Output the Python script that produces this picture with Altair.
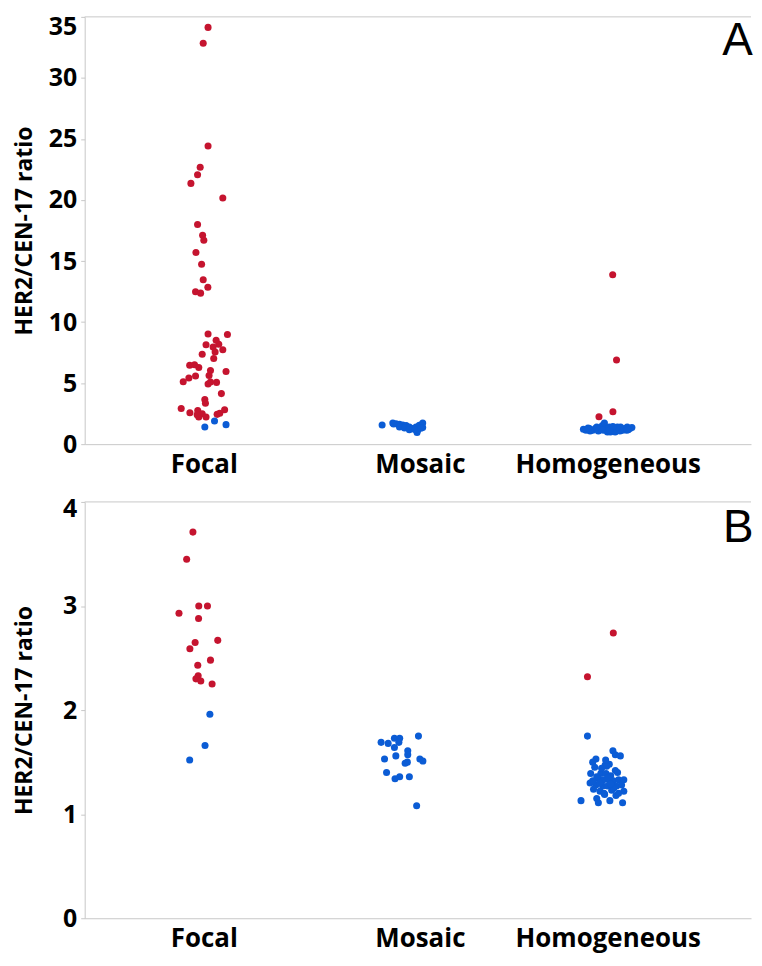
import altair as alt
import pandas as pd

CATS = ["Focal", "Mosaic", "Homogeneous"]
RED = "#C5142F"
BLUE = "#0B5CD5"
GRAY = "#c8c8c8"
YTITLE = "HER2/CEN-17 ratio"

# ---------------- Panel A ----------------
A_focal_amp = [34.14, 32.84, 24.43, 22.69, 22.07, 21.36, 20.17, 17.99, 17.12, 16.71,
               15.70, 14.73, 13.46, 12.86, 12.49, 12.37, 9.02, 8.99, 8.51, 8.15,
               8.18, 7.96, 7.74, 7.55, 7.37, 7.01, 6.47, 6.50, 6.28, 6.04,
               5.95, 5.58, 5.42, 5.12, 5.63, 5.09, 4.93, 5.06, 4.14, 3.66,
               3.35, 2.92, 2.58, 2.76, 2.49, 2.22, 2.22, 2.44, 2.54, 2.82, 2.41]
A_focal_amp_j = [0.021, -0.003, 0.021, -0.018, -0.031, -0.064, 0.094, -0.031, -0.006, 0.0,
                 -0.039, -0.011, -0.003, 0.020, -0.041, -0.016, 0.021, 0.117, 0.061, 0.011,
                 0.074, 0.046, 0.094, 0.056, -0.008, 0.049, -0.070, -0.046, -0.025, 0.033,
                 0.110, -0.041, -0.074, -0.102, 0.026, 0.033, 0.021, 0.063, 0.087, 0.005,
                 0.008, -0.112, -0.069, -0.030, -0.008, -0.025, 0.011, 0.066, 0.079, 0.103, -0.033]
A_focal_non = [1.41, 1.89, 1.60]
A_focal_non_j = [0.005, 0.053, 0.110]

A_mosaic_non = [1.57, 1.73, 1.68, 1.62, 1.57, 1.52, 1.41, 1.32, 1.41, 1.28,
                1.41, 1.54, 1.73, 1.36, 0.95, 1.14, 1.19, 1.20, 1.65, 1.30]
A_mosaic_non_j = [-0.117, -0.064, -0.048, -0.031, -0.015, 0.002, -0.031, -0.006, 0.018, 0.034,
                  0.051, 0.067, 0.084, 0.084, 0.056, 0.059, 0.018, 0.045, -0.060, 0.075]

A_homo_amp = [13.87, 6.90, 2.66, 2.25]
A_homo_amp_j = [0.025, 0.044, 0.026, -0.043]
A_homo_non = [1.22, 1.14, 1.28, 1.14, 1.28, 1.08, 1.33, 1.52, 1.73, 1.28,
              1.00, 1.41, 1.14, 1.33, 1.08, 1.28, 1.41, 1.14, 1.28, 1.41,
              1.28, 1.36, 1.14, 1.19, 1.28, 1.00, 1.00, 1.08, 1.08, 1.41,
              1.14, 1.14, 1.41, 1.45, 1.33, 1.19]
A_homo_non_j = [-0.120, -0.107, -0.090, -0.074, -0.061, -0.046, -0.038, -0.026, -0.016, -0.011,
                -0.001, 0.008, 0.020, 0.031, 0.041, 0.053, 0.064, 0.074, 0.085, 0.097,
                0.110, 0.120, -0.020, -0.031, 0.005, 0.014, 0.037, 0.061, -0.087, -0.054,
                0.094, 0.010, 0.048, 0.026, -0.097, 0.102]

# ---------------- Panel B ----------------
B_focal_amp = [3.71, 3.45, 3.00, 3.00, 2.93, 2.88, 2.67, 2.65, 2.59, 2.48,
               2.43, 2.33, 2.30, 2.28, 2.25]
B_focal_amp_j = [-0.054, -0.085, -0.025, 0.018, -0.123, -0.026, 0.069, -0.043, -0.069, 0.033,
                 -0.030, -0.028, -0.039, -0.015, 0.041]
B_focal_non = [1.96, 1.66, 1.52]
B_focal_non_j = [0.030, 0.006, -0.070]

B_mosaic_non = [1.69, 1.68, 1.73, 1.73, 1.69, 1.64, 1.75, 1.61, 1.57, 1.56,
                1.53, 1.53, 1.51, 1.50, 1.49, 1.40, 1.36, 1.34, 1.36, 1.08]
B_mosaic_non_j = [-0.122, -0.087, -0.056, -0.030, -0.034, -0.056, 0.063, 0.010, 0.010, -0.049,
                  -0.105, 0.070, 0.085, 0.008, -0.003, -0.095, -0.030, -0.053, 0.018, 0.054]

B_homo_amp = [2.74, 2.32]
B_homo_amp_j = [0.028, -0.100]
B_homo_non = [1.75, 1.61, 1.57, 1.56, 1.53, 1.50, 1.47, 1.48, 1.45, 1.42,
              1.39, 1.39, 1.39, 1.37, 1.34, 1.33, 1.33, 1.32, 1.33, 1.33,
              1.30, 1.28, 1.27, 1.27, 1.27, 1.28, 1.24, 1.22, 1.23, 1.22,
              1.20, 1.18, 1.15, 1.13, 1.13, 1.11, 1.11, 1.19, 1.44, 1.46,
              1.36, 1.40, 1.30, 1.35, 1.25, 1.32, 1.20, 1.52, 1.29]
B_homo_non_j = [-0.100, 0.026, 0.038, 0.063, -0.058, -0.074, -0.013, 0.008, -0.064, 0.038,
                -0.084, -0.034, -0.008, 0.015, -0.046, -0.021, 0.005, 0.028, 0.054, 0.080,
                -0.087, -0.058, -0.025, -0.001, 0.044, 0.069, -0.070, -0.038, 0.020, 0.080,
                -0.018, 0.041, -0.054, -0.132, 0.011, 0.074, -0.046, -0.015, -0.030, -0.005,
                -0.054, 0.049, -0.039, 0.000, 0.030, -0.074, 0.054, -0.010, 0.015]


def build(groups):
    rows = []
    for cat, status, vals, jit in groups:
        idx = CATS.index(cat) + 1
        for v, j in zip(vals, jit):
            rows.append({"category": cat, "status": status, "ratio": v, "xpos": idx + j})
    return pd.DataFrame(rows)


dfA = build([
    ("Focal", "amplified", A_focal_amp, A_focal_amp_j),
    ("Focal", "not amplified", A_focal_non, A_focal_non_j),
    ("Mosaic", "not amplified", A_mosaic_non, A_mosaic_non_j),
    ("Homogeneous", "amplified", A_homo_amp, A_homo_amp_j),
    ("Homogeneous", "not amplified", A_homo_non, A_homo_non_j),
])
dfB = build([
    ("Focal", "amplified", B_focal_amp, B_focal_amp_j),
    ("Focal", "not amplified", B_focal_non, B_focal_non_j),
    ("Mosaic", "not amplified", B_mosaic_non, B_mosaic_non_j),
    ("Homogeneous", "amplified", B_homo_amp, B_homo_amp_j),
    ("Homogeneous", "not amplified", B_homo_non, B_homo_non_j),
])

W = 669
LABEL_EXPR = "datum.value < 1.5 ? 'Focal' : (datum.value < 2.5 ? 'Mosaic' : 'Homogeneous')"


def panel(df, ymax, yticks, letter, h, title_pad, top_off, letter_x, letter_y):
    xenc = alt.X(
        "xpos:Q",
        scale=alt.Scale(domain=[0.41, 3.71], nice=False, zero=False),
        axis=alt.Axis(values=[1, 2.07, 3], labelExpr=LABEL_EXPR, title=None,
                      ticks=False, labelPadding=7, labelFontSize=26, labelLimit=400),
    )
    yenc = alt.Y(
        "ratio:Q",
        scale=alt.Scale(domain=[0, ymax], nice=False),
        axis=alt.Axis(values=yticks, format="d", title=YTITLE, titlePadding=title_pad,
                      labelOffset={"condition": {"test": f"datum.value == {ymax}", "value": top_off},
                                   "value": 0}),
    )
    pts = alt.Chart(df).mark_circle(size=50, opacity=1).encode(
        x=xenc,
        y=yenc,
        color=alt.Color("status:N",
                        scale=alt.Scale(domain=["amplified", "not amplified"], range=[RED, BLUE]),
                        legend=None),
    )
    top = alt.Chart(pd.DataFrame({"top": [ymax]})).mark_rule(color=GRAY, strokeWidth=1).encode(
        y="top:Q"
    )
    lab = alt.Chart(pd.DataFrame({"t": [letter]})).mark_text(
        font="Liberation Sans", fontSize=46, align="left", baseline="top",
        color="black",
    ).encode(text="t:N", x=alt.value(letter_x), y=alt.value(letter_y))
    return alt.layer(top, pts, lab).properties(width=W, height=h)


chartA = panel(dfA, 35, [0, 5, 10, 15, 20, 25, 30, 35], "A", 429, 12, 10, 640, 2)
chartB = panel(dfB, 4, [0, 1, 2, 3, 4], "B", 418, 26, 7, 641, 4)

chart = alt.vconcat(chartA, chartB, spacing=20).configure(
    padding={"left": 5, "top": 5, "right": 0, "bottom": 6}
).configure_view(stroke=None).configure_axis(
    grid=False,
    domainColor=GRAY,
    tickColor=GRAY,
    tickSize=4,
    labelColor="black",
    labelFont="Open Sans",
    labelFontWeight="bold",
    labelFontSize=25,
    labelPadding=4,
    titleFont="Open Sans",
    titleFontWeight="bold",
    titleFontSize=23,
    titleColor="black",
)

chart.save("out.html", embed_options={"renderer": "svg", "actions": False})
